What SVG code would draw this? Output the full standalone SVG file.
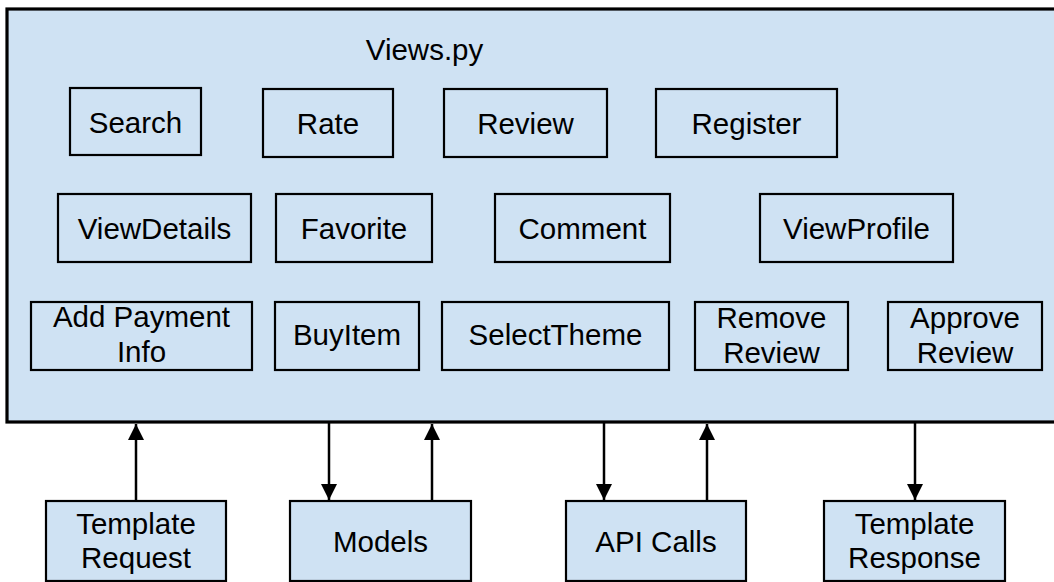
<svg xmlns="http://www.w3.org/2000/svg" width="1054" height="582" viewBox="0 0 1054 582">
<style>
.n{fill:#cfe2f3;stroke:#000;stroke-width:2.2}
.t{font-family:"Liberation Sans",Arial,sans-serif;font-size:29.5px;fill:#000;text-anchor:middle}
.c{stroke:#000;stroke-width:2.5;fill:none}
</style>
<defs>
<marker id="ah" markerWidth="16" markerHeight="20" refX="16" refY="8" orient="auto" markerUnits="userSpaceOnUse" viewBox="0 0 16 16">
<path d="M0,0 L16,8 L0,16 Z" fill="#000"/>
</marker>
</defs>
<rect width="1054" height="582" fill="#fff"/>
<g id="views">
<rect x="7" y="9" width="1060" height="413" fill="#cfe2f3" stroke="#000" stroke-width="3.2"/>
<text class="t" x="424.5" y="60">Views.py</text>
</g>
<g id="search"><rect class="n" x="70" y="88" width="131" height="67"/><text class="t" x="135.5" y="133">Search</text></g>
<g id="rate"><rect class="n" x="263" y="89" width="130" height="68"/><text class="t" x="328" y="134">Rate</text></g>
<g id="review"><rect class="n" x="444" y="89" width="163" height="68"/><text class="t" x="525.5" y="134">Review</text></g>
<g id="register"><rect class="n" x="656" y="89" width="181" height="68"/><text class="t" x="746.5" y="134">Register</text></g>
<g id="viewdetails"><rect class="n" x="58" y="194" width="193" height="68"/><text class="t" x="154.5" y="239">ViewDetails</text></g>
<g id="favorite"><rect class="n" x="276" y="194" width="156" height="68"/><text class="t" x="354" y="239">Favorite</text></g>
<g id="comment"><rect class="n" x="495" y="194" width="175" height="68"/><text class="t" x="582.5" y="239">Comment</text></g>
<g id="viewprofile"><rect class="n" x="760" y="194" width="193" height="68"/><text class="t" x="856.5" y="239">ViewProfile</text></g>
<g id="addpayment"><rect class="n" x="31" y="302" width="221" height="68"/><text class="t" x="141.5" y="327">Add Payment</text><text class="t" x="141.5" y="362">Info</text></g>
<g id="buyitem"><rect class="n" x="275" y="302" width="144" height="68"/><text class="t" x="347" y="345">BuyItem</text></g>
<g id="selecttheme"><rect class="n" x="442" y="302" width="227" height="68"/><text class="t" x="555.5" y="345">SelectTheme</text></g>
<g id="removereview"><rect class="n" x="695" y="302" width="153" height="68"/><text class="t" x="771.5" y="328">Remove</text><text class="t" x="771.5" y="363">Review</text></g>
<g id="approvereview"><rect class="n" x="888" y="302" width="154" height="68"/><text class="t" x="965" y="328">Approve</text><text class="t" x="965" y="363">Review</text></g>
<g id="templaterequest"><rect class="n" x="46" y="501" width="180" height="80"/><text class="t" x="136" y="534">Template</text><text class="t" x="136" y="568">Request</text></g>
<g id="models"><rect class="n" x="290" y="501" width="181" height="80"/><text class="t" x="380.5" y="552">Models</text></g>
<g id="apicalls"><rect class="n" x="566" y="501" width="180" height="80"/><text class="t" x="656" y="552">API Calls</text></g>
<g id="templateresponse"><rect class="n" x="824" y="501" width="181" height="80"/><text class="t" x="914.5" y="534">Template</text><text class="t" x="914.5" y="568">Response</text></g>
<g id="connectors">
<line class="c" x1="136" y1="501" x2="136" y2="424" marker-end="url(#ah)"/>
<line class="c" x1="329" y1="423" x2="329" y2="500" marker-end="url(#ah)"/>
<line class="c" x1="432" y1="501" x2="432" y2="424" marker-end="url(#ah)"/>
<line class="c" x1="604" y1="423" x2="604" y2="500" marker-end="url(#ah)"/>
<line class="c" x1="707" y1="501" x2="707" y2="424" marker-end="url(#ah)"/>
<line class="c" x1="915" y1="423" x2="915" y2="500" marker-end="url(#ah)"/>
</g>
</svg>
